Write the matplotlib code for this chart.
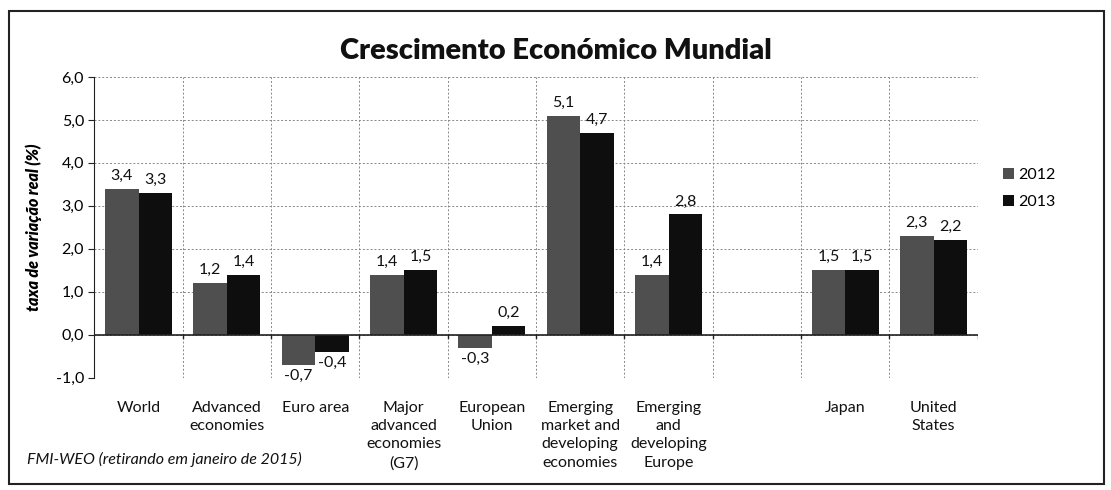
import matplotlib
matplotlib.use("Agg")
import matplotlib.pyplot as plt
import numpy as np
from matplotlib.patches import Rectangle

plt.rcParams['font.family'] = ['Lato', 'DejaVu Sans']

categories = ["World", "Advanced\neconomies", "Euro area", "Major\nadvanced\neconomies\n(G7)",
              "European\nUnion", "Emerging\nmarket and\ndeveloping\neconomies",
              "Emerging\nand\ndeveloping\nEurope", "", "Japan", "United\nStates"]
v2012 = [3.4, 1.2, -0.7, 1.4, -0.3, 5.1, 1.4, None, 1.5, 2.3]
v2013 = [3.3, 1.4, -0.4, 1.5, 0.2, 4.7, 2.8, None, 1.5, 2.2]
series_names = ["2012", "2013"]
yticks = [-1, 0, 1, 2, 3, 4, 5, 6]

fig = plt.figure(figsize=(11.11, 4.9), dpi=100)
ax = fig.add_axes([0.085, 0.229, 0.795, 0.614])

x = np.arange(len(categories))
w = 0.38
c12, c13 = "#4f4f4f", "#0e0e0e"
for vals, off, col, name in [(v2012, -w/2, c12, series_names[0]), (v2013, w/2, c13, series_names[1])]:
    xs = [xi + off for xi, v in zip(x, vals) if v is not None]
    ys = [v for v in vals if v is not None]
    ax.bar(xs, ys, width=w, color=col, label=name, zorder=3)
    for xi, v in zip(xs, ys):
        lab = f"{v:.1f}".replace(".", ",")
        if v >= 0:
            ax.text(xi, v + 0.14, lab, ha="center", va="bottom", fontsize=11.5, color="#111111")
        else:
            ax.text(xi, v - 0.1, lab, ha="center", va="top", fontsize=11.5, color="#111111")

ax.set_xlim(-0.5, len(categories) - 0.5)
ax.set_ylim(-1, 6)
ax.set_yticks(yticks)
ax.set_yticklabels([f"{t:.1f}".replace(".", ",") for t in yticks], fontsize=11.5)
ax.set_xticks([])
for i in range(len(categories) + 1):
    ax.axvline(i - 0.5, color="#888888", lw=0.7, ls=(0, (2, 2)), zorder=1)
for t in yticks:
    ax.axhline(t, color="#888888", lw=0.7, ls=(0, (2, 2)), zorder=1)
ax.axhline(0, color="#222222", lw=1.2, zorder=4)
for i in range(1, len(categories) + 1):
    ax.plot([i - 0.5, i - 0.5], [0, -0.08], color="#222222", lw=1, zorder=4)
for s in ["top", "right", "bottom"]:
    ax.spines[s].set_visible(False)
ax.spines["left"].set_color("#222222")
ax.tick_params(axis="y", length=4, color="#222222")

for xi, c in zip(x, categories):
    ax.text(xi, -1.53, c, ha="center", va="top", fontsize=11.5, linespacing=1.4, color="#111111")

ax.set_ylabel("taxa de variação real (%)", fontsize=11.5, fontstyle="italic", fontweight="heavy", labelpad=10)

fig.text(0.5, 0.895, "Crescimento Económico Mundial", ha="center", va="center",
         fontsize=21, fontweight="heavy", color="#111111")

ax.legend(loc="upper left", bbox_to_anchor=(1.012, 0.745), frameon=False, fontsize=11.5,
          handlelength=0.7, handleheight=0.7, handletextpad=0.3, labelspacing=0.8)

fig.text(0.024, 0.063, "FMI-WEO (retirando em janeiro de 2015)", fontsize=11.5,
         fontstyle="italic", ha="left", va="center", color="#111111")

fig.patches.append(Rectangle((0.008, 0.012), 0.986, 0.965, transform=fig.transFigure,
                             fill=False, edgecolor="#222222", lw=1.5))

fig.savefig("out.png", dpi=100)
